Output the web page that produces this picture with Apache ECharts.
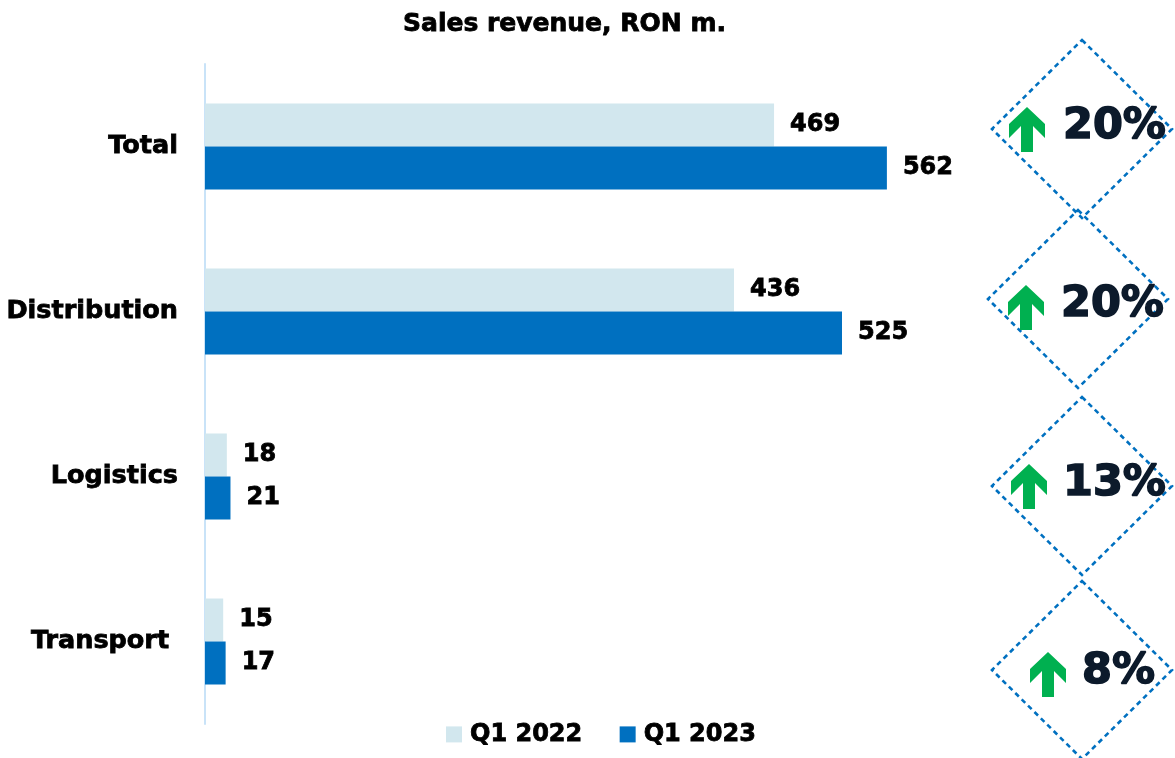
<!DOCTYPE html>
<html>
<head>
<meta charset="utf-8">
<script src="https://cdn.jsdelivr.net/npm/echarts@6/dist/echarts.min.js"></script>
<style>
  html, body { margin: 0; padding: 0; background: #ffffff; }
  #chart { width: 1175px; height: 758px; }
</style>
</head>
<body>
<div id="chart"></div>
<script>
// Segments shown top to bottom
const categories = ['Total', 'Distribution', 'Logistics', 'Transport '];
const seriesNames = ['Q1 2022', 'Q1 2023'];
const q1_2022 = [469, 436, 18, 15];
const q1_2023 = [562, 525, 21, 17];
// Year-on-year growth shown in the badges
const growthLabels = ['20%', '20%', '13%', '8%'];

const FONT = '"DejaVu Sans", sans-serif';
const LIGHT = '#d2e7ee';
const DARK = '#0070c0';

// Badge placement: diamond centre, arrow tip, text anchor
const badges = [
  { cx: 1082, cy: 129, ax: 1027, ay: 107, tx: 1063, ty: 127 },
  { cx: 1078, cy: 299, ax: 1026, ay: 285, tx: 1061, ty: 305 },
  { cx: 1082, cy: 486, ax: 1029, ay: 464, tx: 1063, ty: 484 },
  { cx: 1082, cy: 670, ax: 1048, ay: 652, tx: 1082, ty: 672 }
];

function diamond(b) {
  const hw = 90, hh = 89;
  return {
    type: 'polygon',
    shape: { points: [[b.cx, b.cy - hh], [b.cx + hw, b.cy], [b.cx, b.cy + hh], [b.cx - hw, b.cy]] },
    style: { fill: 'none', stroke: DARK, lineWidth: 2.6, lineDash: [5, 4] },
    silent: true
  };
}

function arrow(b) {
  const x = b.ax, y = b.ay;
  const pts = [[0, 0], [18, 17], [18, 31], [6, 19], [6, 45], [-6, 45], [-6, 19], [-18, 31], [-18, 17]];
  return {
    type: 'polygon',
    shape: { points: pts.map(p => [x + p[0], y + p[1]]) },
    style: { fill: '#00b050' },
    silent: true
  };
}

function badgeText(b, txt) {
  return {
    type: 'text',
    x: b.tx, y: b.ty,
    style: {
      text: txt, fontFamily: FONT, fontWeight: 'bold', fontSize: 43,
      fill: '#0c1a2b', stroke: '#0c1a2b', lineWidth: 1.6,
      textAlign: 'left', textVerticalAlign: 'middle'
    },
    silent: true
  };
}

const graphics = [];
badges.forEach((b, i) => {
  graphics.push(diamond(b), arrow(b), badgeText(b, growthLabels[i]));
});

const valueLabel = {
  show: true, position: 'right', distance: 16,
  fontFamily: FONT, fontWeight: 'bold', fontSize: 24, color: '#000',
  textBorderColor: '#000', textBorderWidth: 0.8
};

const chart = echarts.init(document.getElementById('chart'));
chart.setOption({
  animation: false,
  backgroundColor: '#ffffff',
  title: {
    text: 'Sales revenue, RON m.',
    left: 398, top: 7,
    textStyle: {
      fontFamily: FONT, fontWeight: 'bold', fontSize: 25, color: '#000',
      textBorderColor: '#000', textBorderWidth: 0.8
    }
  },
  legend: {
    data: seriesNames,
    left: 441, top: 717,
    icon: 'rect', itemWidth: 16, itemHeight: 16, itemGap: 37,
    textStyle: {
      fontFamily: FONT, fontWeight: 'bold', fontSize: 24, color: '#000',
      textBorderColor: '#000', textBorderWidth: 0.8, padding: [0, 0, 0, 3]
    }
  },
  grid: { left: 205, top: 64, width: 728, height: 660, containLabel: false },
  xAxis: {
    type: 'value', min: 0, max: 600,
    show: false
  },
  yAxis: {
    type: 'category',
    data: categories,
    inverse: true,
    axisLine: { show: true, lineStyle: { color: '#c9e3f8', width: 2 } },
    axisTick: { show: false },
    axisLabel: {
      margin: 27, fontFamily: FONT, fontWeight: 'bold', fontSize: 25.5, color: '#000',
      textBorderColor: '#000', textBorderWidth: 0.8
    }
  },
  series: [
    {
      name: seriesNames[0], type: 'bar', data: q1_2022,
      barWidth: 43, barGap: '0%',
      itemStyle: { color: LIGHT },
      label: valueLabel
    },
    {
      name: seriesNames[1], type: 'bar', data: q1_2023,
      barWidth: 43,
      itemStyle: { color: DARK },
      label: valueLabel
    }
  ],
  graphic: graphics
});
</script>
</body>
</html>
